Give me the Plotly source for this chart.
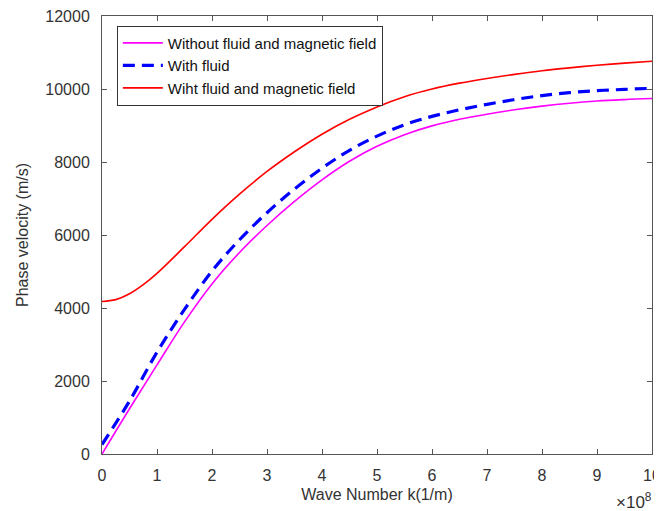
import plotly.graph_objects as go

# Wave number (units of 1e8 1/m)
k = [0, 0.5, 1, 1.5, 2, 2.5, 3, 3.5, 4, 4.5, 5, 5.5, 6, 6.5, 7, 7.5, 8, 8.5, 9, 9.5, 10]
k_mag = [0, 0.25, 0.5, 0.75, 1, 1.5, 2, 2.5, 3, 3.5, 4, 4.5, 5, 5.5, 6, 6.5, 7, 7.5, 8, 8.5, 9, 9.5, 10]

# Phase velocity (m/s)
v_without = [0, 1240, 2440, 3620, 4660, 5520, 6260, 6920, 7510, 8020, 8430, 8750, 8990, 9170, 9310, 9430, 9530, 9610, 9670, 9710, 9740]
v_fluid = [260, 1450, 2790, 3960, 5010, 5870, 6610, 7260, 7830, 8320, 8710, 9020, 9250, 9430, 9580, 9710, 9820, 9900, 9955, 9990, 10020]
v_fluid_mag = [4180, 4230, 4390, 4640, 4950, 5680, 6430, 7120, 7740, 8280, 8760, 9170, 9510, 9790, 10000, 10160, 10290, 10400, 10500, 10580, 10650, 10710, 10760]

names = ["Without fluid and magnetic field", "With fluid", "Wiht fluid and magnetic field"]

x_ticks = list(range(0, 11))
y_ticks = [0, 2000, 4000, 6000, 8000, 10000, 12000]

fig = go.Figure()
fig.add_trace(go.Scatter(x=k, y=v_without, mode="lines", name=names[0],
                         line=dict(color="#FF00FF", width=1.6, shape="spline")))
fig.add_trace(go.Scatter(x=k, y=v_fluid, mode="lines", name=names[1],
                         line=dict(color="#0000FF", width=3.2, dash="12px,7px", shape="spline")))
fig.add_trace(go.Scatter(x=k_mag, y=v_fluid_mag, mode="lines", name=names[2],
                         line=dict(color="#FF0000", width=1.6, shape="spline")))

axis_col = "#555555"
font_fam = "Liberation Sans, Arial, sans-serif"

# page body has an 8px margin: figure is sized to fit inside the 662x511 window
fig.update_layout(
    width=654, height=503,
    margin=dict(l=94, r=10, t=8, b=57),
    paper_bgcolor="white", plot_bgcolor="white",
    font=dict(family=font_fam, color="#333333"),
    showlegend=True,
    legend=dict(x=0.027, y=0.978, xanchor="left", yanchor="top",
                bgcolor="white", bordercolor="#333333", borderwidth=1,
                font=dict(size=15, family=font_fam, color="#111111"),
                tracegroupgap=0, itemwidth=40),
    xaxis=dict(range=[0, 10], tickvals=x_ticks, ticktext=[str(t) for t in x_ticks],
               automargin=False, ticklabeloverflow="allow",
               showgrid=False, zeroline=False, showline=True, linecolor=axis_col,
               linewidth=1, mirror="ticks", ticks="inside", ticklen=5, tickcolor=axis_col,
               tickfont=dict(size=16, color="#333333"), ticklabelstandoff=7,
               title=dict(text="Wave Number k(1/m)", font=dict(size=16, color="#333333"), standoff=5)),
    yaxis=dict(range=[0, 12000], tickvals=y_ticks, ticktext=[str(t) for t in y_ticks],
               automargin=False, ticklabeloverflow="allow",
               showgrid=False, zeroline=False, showline=True, linecolor=axis_col,
               linewidth=1, mirror="ticks", ticks="inside", ticklen=5, tickcolor=axis_col,
               tickfont=dict(size=16, color="#333333"), ticklabelstandoff=8,
               title=dict(text="Phase velocity (m/s)", font=dict(size=16, color="#333333"), standoff=12)),
    annotations=[dict(text="\u00d710<sup>8</sup>", x=1.003, y=-0.078, xref="paper", yref="paper",
                      xanchor="right", yanchor="top", showarrow=False,
                      font=dict(size=17, color="#333333", family=font_fam))],
)

fig.write_html("out.html")
